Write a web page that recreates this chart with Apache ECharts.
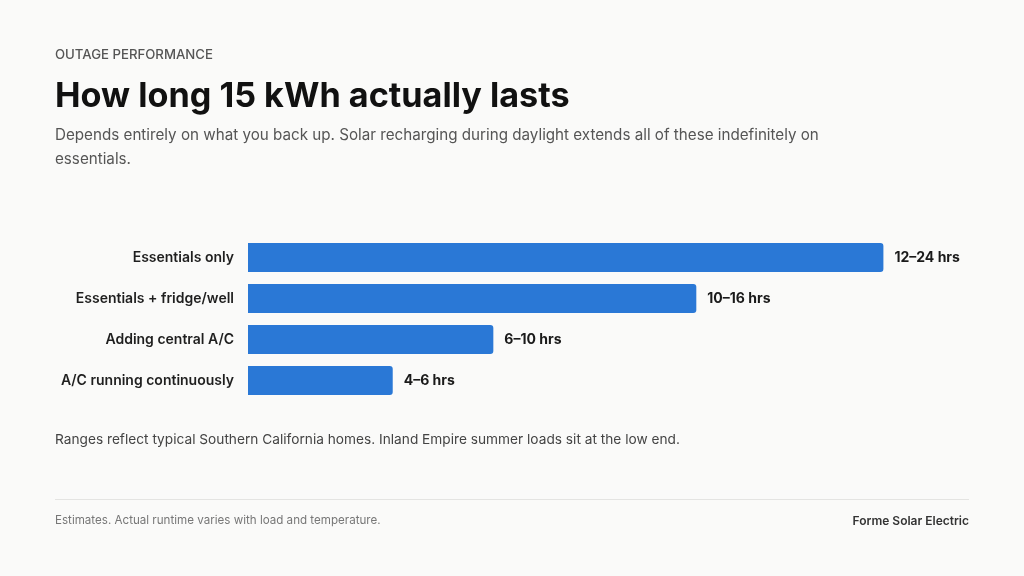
<!DOCTYPE html>
<html>
<head>
<meta charset="utf-8">
<script src="https://cdn.jsdelivr.net/npm/echarts@6/dist/echarts.min.js"></script>
<style>
  html, body { margin: 0; padding: 0; background: #fafaf9; }
  #chart { width: 1024px; height: 576px; }
</style>
</head>
<body>
<div id="chart"></div>
<script>
const BAR_COLOR = '#2a78d6'
const FONT = 'Inter, "Noto Sans", sans-serif'

const categories = ['Essentials only', 'Essentials + fridge/well', 'Adding central A/C', 'A/C running continuously']
const barValues = [18, 12.7, 6.95, 4.1]
const rangeLabels = ['12–24 hrs', '10–16 hrs', '6–10 hrs', '4–6 hrs']

const chart = echarts.init(document.getElementById('chart'))

chart.setOption({
  backgroundColor: '#fafaf9',
  animation: false,
  grid: { left: 248, top: 237, height: 164, right: 70 },
  xAxis: {
    type: 'value',
    min: 0,
    max: 20,
    show: false
  },
  yAxis: {
    type: 'category',
    data: categories,
    inverse: true,
    axisLine: { show: false },
    axisTick: { show: false },
    axisLabel: {
      margin: 14,
      color: '#1f1f1f',
      fontSize: 14,
      fontWeight: 600,
      fontFamily: FONT
    }
  },
  series: [{
    type: 'bar',
    data: barValues,
    barWidth: 29,
    itemStyle: { color: BAR_COLOR, borderRadius: [0, 3, 3, 0] },
    label: {
      show: true,
      position: 'right',
      distance: 11,
      color: '#1a1a1a',
      fontSize: 14,
      fontWeight: 700,
      fontFamily: FONT,
      formatter: (p) => rangeLabels[p.dataIndex]
    }
  }],
  graphic: [
    {
      type: 'text', left: 55, top: 49,
      style: { text: 'OUTAGE PERFORMANCE', fill: '#555', font: '500 13.2px ' + FONT }
    },
    {
      type: 'text', left: 55, top: 80,
      style: { text: 'How long 15 kWh actually lasts', fill: '#111', font: '700 34.2px ' + FONT }
    },
    {
      type: 'text', left: 55, top: 123,
      style: {
        text: 'Depends entirely on what you back up. Solar recharging during daylight extends all of these indefinitely on\nessentials.',
        fill: '#555', font: '400 15.2px ' + FONT, lineHeight: 24
      }
    },
    {
      type: 'text', left: 55, top: 433,
      style: { text: 'Ranges reflect typical Southern California homes. Inland Empire summer loads sit at the low end.', fill: '#444', font: '400 13.7px ' + FONT }
    },
    {
      type: 'line',
      shape: { x1: 55, y1: 499.5, x2: 969, y2: 499.5 },
      style: { stroke: '#e4e4e2', lineWidth: 1 }
    },
    {
      type: 'text', left: 55, top: 515,
      style: { text: 'Estimates. Actual runtime varies with load and temperature.', fill: '#777', font: '400 11.6px ' + FONT }
    },
    {
      type: 'text', right: 55, top: 515,
      style: { text: 'Forme Solar Electric', fill: '#333', font: '600 12px ' + FONT }
    }
  ]
})
</script>
</body>
</html>
